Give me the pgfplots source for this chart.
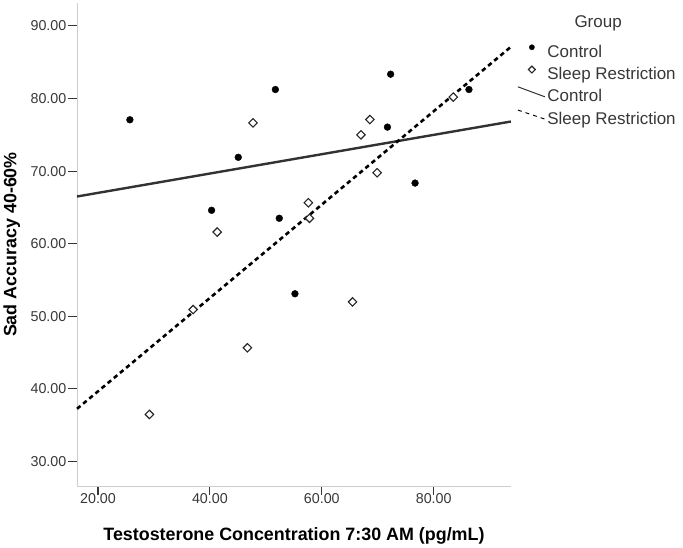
\documentclass[border=0pt]{standalone}
\usepackage{fontspec}
\setmainfont{Liberation Sans}
\usepackage{pgfplots}
\pgfplotsset{compat=1.18}
\definecolor{axgray}{RGB}{205,205,205}
\definecolor{txtgray}{RGB}{55,55,55}
\definecolor{fitgray}{RGB}{50,50,50}
\pgfplotsset{
  dotimg/.style={legend image code/.code={\draw[##1, mark size=2.6pt, mark repeat=2, mark phase=2] plot coordinates {(0pt,5pt)(14pt,5pt)(28pt,5pt)};}},
  diaimg/.style={legend image code/.code={\draw[##1, mark size=2.4pt, mark repeat=2, mark phase=2] plot coordinates {(0pt,5pt)(14pt,5pt)(28pt,5pt)};}},
  solidimg/.style={legend image code/.code={\draw[##1, line width=1pt] (0pt,10pt) -- (27pt,0pt);}},
  dashimg/.style={legend image code/.code={\draw[##1, line width=1pt, dash pattern=on 4pt off 4pt] (0pt,9pt) -- (27pt,0pt);}},
}
\begin{document}
\begin{tikzpicture}
\begin{axis}[
  scale only axis, width=434.4pt, height=483.7pt,
  xmin=16.25, xmax=93.8, ymin=26.6, ymax=93.16,
  axis x line*=bottom, axis y line*=left,
  axis line style={axgray, line width=0.9pt},
  clip=false,
  xtick={20,40,60,80}, ytick={30,40,50,60,70,80,90},
  xtick align=outside, ytick align=outside, major tick length=9pt,
  every tick/.style={draw=txtgray, line width=1.1pt},
  /pgf/number format/.cd, fixed, fixed zerofill, precision=2, assume math mode=true,
  /pgfplots/.cd,
  xticklabel style={font=\fontsize{14.3}{16}\selectfont, text=txtgray, anchor=north, inner sep=0pt, yshift=1.3pt},
  yticklabel style={font=\fontsize{14.3}{16}\selectfont, text=txtgray, anchor=east, inner sep=0pt, xshift=-1.5pt},
  xlabel={Testosterone Concentration 7:30 AM (pg/mL)},
  ylabel={Sad Accuracy 40-60\%},
  xlabel style={font=\fontsize{17.9}{20}\selectfont\bfseries, at={(axis description cs:0.5,-0.1127)}, anchor=base},
  ylabel style={font=\fontsize{17.9}{20}\selectfont\bfseries, at={(axis description cs:-0.14,0.5)}, anchor=base},
  legend style={draw=none, fill=none, at={(1.0145,0.9215)}, anchor=north west,
    inner sep=0pt, row sep=0pt, column sep=2pt,
    font=\fontsize{17}{20}\selectfont, text=txtgray,
    nodes={inner sep=0pt, text height=16.15pt, text depth=6.15pt}},
  legend cell align=left,
]
\addplot[only marks, mark=*, mark size=3.4pt, black, dotimg]
coordinates {
(25.7,77.07) (51.7,81.24) (72.3,83.35) (86.3,81.24) (45.07,71.9)
(71.73,76.06) (76.67,68.35) (40.3,64.6) (52.4,63.5) (55.2,53.1)
};
\addlegendentry{Control}
\addplot[only marks, mark=square*, mark options={rotate=45, fill=white, draw=black!85, line width=1.1pt}, mark size=3.0pt, diaimg]
coordinates {
(47.7,76.65) (68.6,77.1) (67.0,75.0) (83.5,80.2) (69.9,69.77)
(57.6,65.64) (57.8,63.5) (41.3,61.6) (65.5,51.98) (37.0,50.92)
(46.7,45.65) (29.2,36.47)
};
\addlegendentry{Sleep Restriction}
\addplot[fitgray, line width=2.4pt, no marks, solidimg]
coordinates {(16.25,66.5) (93.8,76.83)};
\addlegendentry{Control}
\addplot[black, line width=2.6pt, dash pattern=on 4.5pt off 3.5pt, no marks, dashimg]
coordinates {(16.25,37.25) (93.8,87.12)};
\addlegendentry{Sleep Restriction}
\node[font=\fontsize{17}{20}\selectfont, text=txtgray, anchor=base] at (rel axis cs:1.201,0.95) {Group};
\end{axis}
\path[use as bounding box] (-76.3pt,-60.3pt) rectangle (606.7pt,486.7pt);
\end{tikzpicture}
\end{document}
